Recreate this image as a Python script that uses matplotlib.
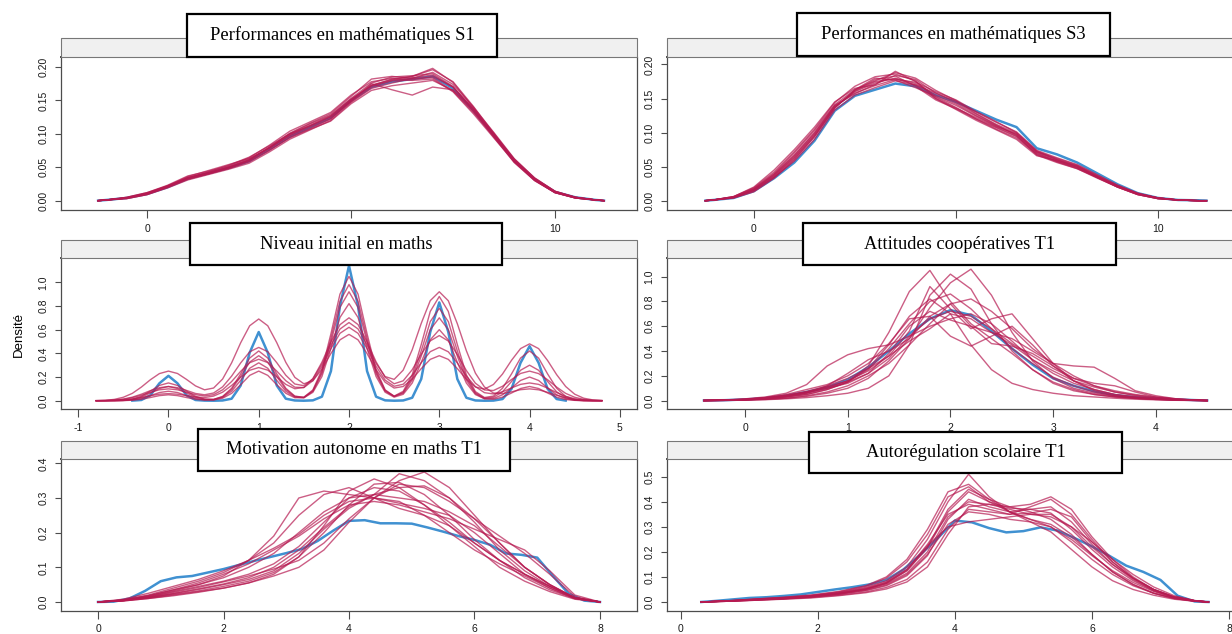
import matplotlib
matplotlib.use("Agg")
import matplotlib.pyplot as plt
from matplotlib.patches import Rectangle

# Performances en mathématiques S1
s1_x = [-1.2, -1.0, -0.5, 0.0, 0.5, 1.0, 1.5, 2.0, 2.5, 3.0, 3.5, 4.0, 4.5, 5.0,
        5.5, 6.0, 6.5, 7.0, 7.5, 8.0, 8.5, 9.0, 9.5, 10.0, 10.5, 11.0, 11.2]
s1_obs = [0, 0.001, 0.004, 0.010, 0.020, 0.033, 0.041, 0.049, 0.059, 0.077, 0.096, 0.110, 0.124, 0.150,
          0.170, 0.178, 0.182, 0.186, 0.168, 0.135, 0.098, 0.060, 0.032, 0.013, 0.005, 0.001, 0]
s1_imp = [
    [0, 0.001, 0.004, 0.011, 0.022, 0.035, 0.042, 0.050, 0.061, 0.079, 0.099, 0.113, 0.127, 0.152, 0.172, 0.180, 0.184, 0.188, 0.170, 0.136, 0.097, 0.059, 0.031, 0.012, 0.004, 0.001, 0],
    [0, 0.001, 0.005, 0.012, 0.023, 0.037, 0.044, 0.052, 0.064, 0.083, 0.104, 0.118, 0.132, 0.158, 0.178, 0.183, 0.180, 0.182, 0.163, 0.130, 0.094, 0.058, 0.031, 0.013, 0.005, 0.001, 0],
    [0, 0.001, 0.003, 0.009, 0.019, 0.031, 0.039, 0.047, 0.056, 0.073, 0.092, 0.106, 0.120, 0.147, 0.168, 0.176, 0.183, 0.192, 0.174, 0.140, 0.102, 0.063, 0.034, 0.014, 0.005, 0.001, 0],
    [0, 0.001, 0.004, 0.010, 0.021, 0.034, 0.043, 0.053, 0.065, 0.082, 0.100, 0.112, 0.125, 0.149, 0.175, 0.166, 0.158, 0.170, 0.166, 0.137, 0.100, 0.062, 0.033, 0.014, 0.005, 0.001, 0],
    [0, 0.001, 0.004, 0.011, 0.021, 0.033, 0.040, 0.048, 0.058, 0.075, 0.095, 0.108, 0.122, 0.150, 0.172, 0.182, 0.186, 0.196, 0.178, 0.141, 0.100, 0.060, 0.031, 0.012, 0.004, 0.001, 0],
    [0, 0.001, 0.005, 0.012, 0.022, 0.034, 0.041, 0.049, 0.060, 0.080, 0.101, 0.116, 0.130, 0.156, 0.182, 0.186, 0.183, 0.184, 0.164, 0.132, 0.096, 0.059, 0.032, 0.013, 0.005, 0.001, 0],
    [0, 0.001, 0.004, 0.010, 0.020, 0.032, 0.040, 0.049, 0.059, 0.076, 0.094, 0.107, 0.119, 0.145, 0.165, 0.172, 0.176, 0.180, 0.165, 0.134, 0.099, 0.062, 0.034, 0.014, 0.005, 0.001, 0],
    [0, 0.001, 0.004, 0.011, 0.022, 0.036, 0.045, 0.054, 0.063, 0.079, 0.097, 0.110, 0.123, 0.148, 0.170, 0.179, 0.181, 0.186, 0.170, 0.138, 0.101, 0.061, 0.032, 0.013, 0.004, 0.001, 0],
    [0, 0.001, 0.003, 0.009, 0.020, 0.033, 0.041, 0.050, 0.061, 0.080, 0.100, 0.115, 0.128, 0.153, 0.176, 0.185, 0.187, 0.190, 0.171, 0.134, 0.095, 0.057, 0.030, 0.012, 0.004, 0.001, 0],
    [0, 0.001, 0.004, 0.010, 0.021, 0.034, 0.042, 0.051, 0.062, 0.078, 0.098, 0.112, 0.126, 0.151, 0.173, 0.181, 0.186, 0.198, 0.177, 0.139, 0.097, 0.058, 0.030, 0.012, 0.004, 0.001, 0],
]

# Performances en mathématiques S3
s3_x = s1_x
s3_obs = [0, 0.001, 0.004, 0.014, 0.033, 0.056, 0.088, 0.132, 0.154, 0.163, 0.172, 0.168, 0.155, 0.145,
          0.132, 0.119, 0.108, 0.077, 0.068, 0.056, 0.040, 0.024, 0.011, 0.004, 0.001, 0.0005, 0]
s3_imp = [
    [0, 0.001, 0.005, 0.016, 0.037, 0.064, 0.097, 0.138, 0.160, 0.173, 0.180, 0.172, 0.155, 0.142, 0.125, 0.110, 0.097, 0.071, 0.060, 0.050, 0.035, 0.021, 0.010, 0.004, 0.001, 0, 0],
    [0, 0.001, 0.006, 0.019, 0.042, 0.072, 0.105, 0.144, 0.168, 0.182, 0.186, 0.176, 0.152, 0.137, 0.120, 0.105, 0.092, 0.068, 0.057, 0.047, 0.033, 0.020, 0.009, 0.003, 0.001, 0, 0],
    [0, 0.001, 0.004, 0.014, 0.034, 0.058, 0.090, 0.133, 0.155, 0.166, 0.176, 0.170, 0.158, 0.146, 0.130, 0.115, 0.101, 0.074, 0.063, 0.053, 0.038, 0.023, 0.011, 0.004, 0.001, 0, 0],
    [0, 0.001, 0.006, 0.020, 0.045, 0.075, 0.108, 0.145, 0.165, 0.170, 0.190, 0.175, 0.150, 0.136, 0.122, 0.108, 0.095, 0.070, 0.058, 0.048, 0.034, 0.020, 0.009, 0.003, 0.001, 0, 0],
    [0, 0.001, 0.005, 0.015, 0.035, 0.061, 0.094, 0.136, 0.162, 0.178, 0.183, 0.168, 0.148, 0.135, 0.120, 0.107, 0.094, 0.069, 0.058, 0.049, 0.035, 0.022, 0.010, 0.004, 0.001, 0, 0],
    [0, 0.001, 0.005, 0.017, 0.039, 0.067, 0.100, 0.140, 0.158, 0.169, 0.178, 0.174, 0.160, 0.148, 0.131, 0.116, 0.100, 0.073, 0.061, 0.051, 0.036, 0.021, 0.010, 0.004, 0.001, 0, 0],
    [0, 0.001, 0.004, 0.013, 0.033, 0.060, 0.094, 0.136, 0.163, 0.180, 0.177, 0.166, 0.153, 0.140, 0.124, 0.109, 0.098, 0.072, 0.062, 0.052, 0.037, 0.022, 0.011, 0.004, 0.001, 0, 0],
    [0, 0.001, 0.005, 0.017, 0.038, 0.066, 0.099, 0.139, 0.157, 0.171, 0.184, 0.178, 0.158, 0.144, 0.127, 0.111, 0.096, 0.067, 0.056, 0.047, 0.034, 0.020, 0.009, 0.003, 0.001, 0, 0],
    [0, 0.001, 0.005, 0.016, 0.036, 0.063, 0.096, 0.137, 0.161, 0.175, 0.179, 0.170, 0.150, 0.134, 0.118, 0.104, 0.090, 0.066, 0.059, 0.051, 0.036, 0.021, 0.010, 0.004, 0.001, 0, 0],
    [0, 0.001, 0.006, 0.018, 0.040, 0.070, 0.103, 0.141, 0.163, 0.176, 0.188, 0.180, 0.162, 0.147, 0.128, 0.112, 0.099, 0.072, 0.060, 0.049, 0.034, 0.020, 0.009, 0.003, 0.001, 0, 0],
]

# Niveau initial en maths
niv_obs_x = [-0.4, -0.3, -0.2, -0.1, 0.0, 0.1, 0.2, 0.3, 0.4, 0.5, 0.6, 0.7, 0.8, 0.9, 1.0,
             1.1, 1.2, 1.3, 1.4, 1.5, 1.6, 1.7, 1.8, 1.9, 2.0, 2.1, 2.2, 2.3, 2.4, 2.5,
             2.6, 2.7, 2.8, 2.9, 3.0, 3.1, 3.2, 3.3, 3.4, 3.5, 3.6, 3.7, 3.8, 3.9, 4.0,
             4.1, 4.2, 4.3, 4.4]
niv_obs = [0.001, 0.006, 0.046, 0.147, 0.21, 0.147, 0.046, 0.006, 0.001, 0.0, 0.002, 0.017, 0.128, 0.406, 0.58,
           0.406, 0.128, 0.017, 0.002, 0.0, 0.003, 0.034, 0.25, 0.80, 1.14, 0.80, 0.25, 0.034, 0.003, 0.0,
           0.002, 0.025, 0.183, 0.58, 0.83, 0.58, 0.183, 0.025, 0.002, 0.0, 0.001, 0.014, 0.10, 0.32, 0.46,
           0.32, 0.10, 0.014, 0.001]
niv_x = [-0.8, -0.7, -0.6, -0.5, -0.4, -0.3, -0.2, -0.1, 0.0,
         0.1, 0.2, 0.3, 0.4, 0.5, 0.6, 0.7, 0.8, 0.9, 1.0,
         1.1, 1.2, 1.3, 1.4, 1.5, 1.6, 1.7, 1.8, 1.9, 2.0,
         2.1, 2.2, 2.3, 2.4, 2.5, 2.6, 2.7, 2.8, 2.9, 3.0,
         3.1, 3.2, 3.3, 3.4, 3.5, 3.6, 3.7, 3.8, 3.9, 4.0,
         4.1, 4.2, 4.3, 4.4, 4.5, 4.6, 4.7, 4.8]
niv_imp = [
    [0, 0, 0.001, 0.003, 0.010, 0.030, 0.065, 0.103, 0.12,
     0.103, 0.065, 0.030, 0.012, 0.011, 0.036, 0.105, 0.226, 0.360, 0.42,
     0.360, 0.226, 0.105, 0.039, 0.028, 0.080, 0.229, 0.496, 0.788, 0.92,
     0.788, 0.496, 0.229, 0.081, 0.036, 0.070, 0.194, 0.420, 0.668, 0.78,
     0.668, 0.420, 0.194, 0.067, 0.023, 0.029, 0.075, 0.162, 0.257, 0.30,
     0.257, 0.162, 0.075, 0.026, 0.006, 0.001, 0, 0],
    [0, 0, 0.0003, 0.0017, 0.007, 0.020, 0.043, 0.069, 0.08,
     0.069, 0.043, 0.020, 0.008, 0.008, 0.028, 0.080, 0.172, 0.274, 0.32,
     0.274, 0.172, 0.080, 0.031, 0.024, 0.071, 0.204, 0.442, 0.703, 0.82,
     0.703, 0.442, 0.204, 0.072, 0.030, 0.054, 0.149, 0.323, 0.514, 0.60,
     0.514, 0.323, 0.149, 0.052, 0.017, 0.019, 0.050, 0.108, 0.171, 0.20,
     0.171, 0.108, 0.050, 0.017, 0.004, 0.001, 0, 0],
    [0, 0, 0.0002, 0.001, 0.004, 0.012, 0.027, 0.043, 0.05,
     0.043, 0.027, 0.012, 0.005, 0.006, 0.021, 0.062, 0.135, 0.214, 0.25,
     0.214, 0.135, 0.063, 0.025, 0.026, 0.084, 0.244, 0.528, 0.840, 0.98,
     0.840, 0.528, 0.244, 0.087, 0.039, 0.079, 0.219, 0.474, 0.754, 0.88,
     0.754, 0.474, 0.219, 0.077, 0.027, 0.039, 0.105, 0.226, 0.360, 0.42,
     0.360, 0.226, 0.105, 0.036, 0.009, 0.002, 0, 0],
    [0, 0, 0.0006, 0.003, 0.013, 0.037, 0.081, 0.129, 0.15,
     0.129, 0.081, 0.037, 0.014, 0.011, 0.033, 0.095, 0.205, 0.326, 0.38,
     0.326, 0.205, 0.095, 0.036, 0.030, 0.091, 0.261, 0.566, 0.900, 1.05,
     0.900, 0.566, 0.261, 0.092, 0.037, 0.064, 0.174, 0.377, 0.600, 0.70,
     0.600, 0.377, 0.174, 0.060, 0.017, 0.013, 0.030, 0.065, 0.103, 0.12,
     0.103, 0.065, 0.030, 0.010, 0.003, 0, 0, 0],
    [0.0004, 0.0014, 0.0044, 0.011, 0.025, 0.046, 0.071, 0.092, 0.10,
     0.092, 0.072, 0.051, 0.040, 0.051, 0.092, 0.162, 0.248, 0.321, 0.35,
     0.322, 0.250, 0.169, 0.114, 0.111, 0.169, 0.289, 0.440, 0.569, 0.62,
     0.569, 0.440, 0.290, 0.174, 0.122, 0.139, 0.215, 0.321, 0.414, 0.45,
     0.413, 0.319, 0.208, 0.119, 0.068, 0.057, 0.075, 0.108, 0.138, 0.15,
     0.138, 0.106, 0.069, 0.037, 0.017, 0.007, 0.002, 0.0006],
    [0.0002, 0.0008, 0.0026, 0.007, 0.015, 0.027, 0.042, 0.055, 0.06,
     0.055, 0.043, 0.031, 0.027, 0.039, 0.072, 0.129, 0.198, 0.257, 0.28,
     0.258, 0.201, 0.138, 0.101, 0.112, 0.187, 0.325, 0.496, 0.642, 0.70,
     0.643, 0.497, 0.328, 0.198, 0.143, 0.168, 0.262, 0.392, 0.505, 0.55,
     0.504, 0.390, 0.255, 0.148, 0.091, 0.086, 0.122, 0.179, 0.230, 0.25,
     0.229, 0.177, 0.115, 0.062, 0.029, 0.011, 0.004, 0.001],
    [0.001, 0.0035, 0.011, 0.029, 0.062, 0.115, 0.177, 0.229, 0.25,
     0.230, 0.180, 0.125, 0.092, 0.107, 0.183, 0.320, 0.489, 0.633, 0.69,
     0.633, 0.490, 0.324, 0.197, 0.143, 0.169, 0.266, 0.399, 0.514, 0.56,
     0.514, 0.398, 0.262, 0.156, 0.107, 0.120, 0.182, 0.271, 0.349, 0.38,
     0.349, 0.271, 0.181, 0.116, 0.098, 0.137, 0.225, 0.341, 0.440, 0.48,
     0.440, 0.339, 0.220, 0.120, 0.055, 0.021, 0.007, 0.002],
    [0.0005, 0.0017, 0.0053, 0.014, 0.030, 0.055, 0.085, 0.110, 0.12,
     0.110, 0.087, 0.061, 0.050, 0.065, 0.117, 0.208, 0.319, 0.413, 0.45,
     0.414, 0.321, 0.215, 0.141, 0.127, 0.184, 0.308, 0.469, 0.605, 0.66,
     0.606, 0.471, 0.315, 0.204, 0.180, 0.258, 0.430, 0.653, 0.845, 0.92,
     0.844, 0.650, 0.422, 0.233, 0.116, 0.065, 0.059, 0.075, 0.093, 0.10,
     0.092, 0.071, 0.046, 0.025, 0.011, 0.004, 0.001, 0.0004],
]

# Attitudes coopératives T1
att_x = [-0.4, -0.2, 0.0, 0.2, 0.4, 0.6, 0.8, 1.0, 1.2, 1.4, 1.6, 1.8, 2.0,
         2.2, 2.4, 2.6, 2.8, 3.0, 3.2, 3.4, 3.6, 3.8, 4.0, 4.2, 4.4, 4.5]
att_obs = [0.002, 0.004, 0.01, 0.02, 0.04, 0.07, 0.107, 0.17, 0.27, 0.40, 0.54, 0.66, 0.73,
           0.69, 0.56, 0.42, 0.29, 0.18, 0.12, 0.075, 0.045, 0.028, 0.018, 0.01, 0.004, 0.002]
att_imp = [
    [0.001, 0.004, 0.01, 0.02, 0.04, 0.07, 0.11, 0.16, 0.25, 0.42, 0.62, 0.80, 0.86, 0.74, 0.58, 0.42, 0.30, 0.19, 0.12, 0.07, 0.04, 0.025, 0.015, 0.008, 0.003, 0.001],
    [0.001, 0.003, 0.008, 0.015, 0.03, 0.05, 0.09, 0.15, 0.28, 0.55, 0.88, 1.05, 0.80, 0.62, 0.50, 0.38, 0.25, 0.15, 0.09, 0.05, 0.03, 0.02, 0.012, 0.006, 0.002, 0.001],
    [0.002, 0.006, 0.015, 0.03, 0.06, 0.13, 0.28, 0.37, 0.42, 0.45, 0.52, 0.60, 0.66, 0.70, 0.62, 0.48, 0.33, 0.22, 0.14, 0.09, 0.05, 0.03, 0.015, 0.007, 0.003, 0.001],
    [0.001, 0.003, 0.006, 0.012, 0.02, 0.035, 0.06, 0.10, 0.18, 0.32, 0.50, 0.75, 0.95, 1.06, 0.85, 0.55, 0.32, 0.18, 0.10, 0.06, 0.035, 0.02, 0.012, 0.006, 0.002, 0.001],
    [0.001, 0.004, 0.01, 0.025, 0.05, 0.09, 0.13, 0.20, 0.30, 0.46, 0.66, 0.68, 0.52, 0.44, 0.52, 0.60, 0.45, 0.28, 0.16, 0.09, 0.05, 0.03, 0.015, 0.007, 0.003, 0.001],
    [0.001, 0.002, 0.005, 0.01, 0.02, 0.04, 0.07, 0.12, 0.20, 0.30, 0.45, 0.62, 0.78, 0.82, 0.72, 0.58, 0.42, 0.30, 0.28, 0.27, 0.18, 0.08, 0.04, 0.015, 0.004, 0.001],
    [0.001, 0.003, 0.008, 0.018, 0.035, 0.06, 0.10, 0.14, 0.22, 0.38, 0.60, 0.72, 0.65, 0.60, 0.55, 0.50, 0.40, 0.30, 0.20, 0.12, 0.07, 0.04, 0.02, 0.01, 0.004, 0.001],
    [0.002, 0.005, 0.012, 0.025, 0.045, 0.075, 0.12, 0.18, 0.26, 0.36, 0.48, 0.58, 0.70, 0.66, 0.55, 0.45, 0.33, 0.24, 0.16, 0.11, 0.07, 0.045, 0.025, 0.012, 0.004, 0.002],
    [0.001, 0.002, 0.004, 0.008, 0.015, 0.025, 0.04, 0.06, 0.10, 0.20, 0.45, 0.85, 1.02, 0.90, 0.62, 0.40, 0.25, 0.14, 0.08, 0.05, 0.03, 0.018, 0.01, 0.005, 0.002, 0.001],
    [0.001, 0.003, 0.007, 0.015, 0.03, 0.06, 0.12, 0.22, 0.33, 0.40, 0.50, 0.68, 0.78, 0.60, 0.46, 0.44, 0.38, 0.28, 0.18, 0.14, 0.12, 0.07, 0.03, 0.012, 0.004, 0.001],
    [0.001, 0.004, 0.009, 0.02, 0.04, 0.07, 0.11, 0.16, 0.24, 0.36, 0.56, 0.92, 0.74, 0.58, 0.66, 0.70, 0.50, 0.30, 0.16, 0.08, 0.04, 0.02, 0.01, 0.005, 0.002, 0.001],
    [0.002, 0.005, 0.012, 0.022, 0.04, 0.065, 0.10, 0.15, 0.22, 0.34, 0.52, 0.66, 0.72, 0.68, 0.58, 0.46, 0.36, 0.26, 0.18, 0.12, 0.08, 0.05, 0.03, 0.015, 0.005, 0.002],
    [0.001, 0.003, 0.008, 0.016, 0.03, 0.05, 0.09, 0.15, 0.26, 0.45, 0.68, 0.82, 0.70, 0.45, 0.25, 0.14, 0.09, 0.06, 0.04, 0.03, 0.02, 0.012, 0.007, 0.003, 0.001, 0.001],
]

# Motivation autonome en maths T1
mot_obs_x = [0.0, 0.25, 0.5, 0.75, 1.0, 1.25, 1.5, 1.75, 2.0, 2.25, 2.5, 2.75, 3.0, 3.25, 3.5, 3.75,
             4.0, 4.25, 4.5, 4.75, 5.0, 5.25, 5.5, 5.75, 6.0, 6.25, 6.5, 6.75, 7.0, 7.25, 7.5, 7.75, 8.0]
mot_obs = [0, 0.001, 0.010, 0.032, 0.060, 0.071, 0.075, 0.085, 0.095, 0.107, 0.119, 0.130, 0.141, 0.153, 0.176, 0.206,
           0.234, 0.236, 0.227, 0.227, 0.226, 0.215, 0.203, 0.190, 0.179, 0.165, 0.140, 0.136, 0.128, 0.075, 0.024, 0.004, 0]
mot_x = [0.0, 0.4, 0.8, 1.2, 1.6, 2.0, 2.4, 2.8, 3.2, 3.6, 4.0, 4.4, 4.8, 5.2, 5.6, 6.0, 6.4, 6.8, 7.2, 7.6, 8.0]
mot_imp = [
    [0, 0.005, 0.015, 0.030, 0.045, 0.060, 0.080, 0.110, 0.160, 0.230, 0.300, 0.330, 0.320, 0.280, 0.230, 0.170, 0.120, 0.080, 0.045, 0.012, 0],
    [0, 0.004, 0.012, 0.022, 0.032, 0.045, 0.060, 0.085, 0.130, 0.200, 0.280, 0.340, 0.345, 0.310, 0.250, 0.180, 0.120, 0.070, 0.035, 0.010, 0],
    [0, 0.006, 0.020, 0.040, 0.060, 0.085, 0.120, 0.170, 0.250, 0.310, 0.330, 0.300, 0.270, 0.250, 0.220, 0.170, 0.120, 0.080, 0.045, 0.012, 0],
    [0, 0.004, 0.014, 0.028, 0.042, 0.058, 0.075, 0.095, 0.120, 0.170, 0.240, 0.300, 0.350, 0.375, 0.330, 0.250, 0.170, 0.100, 0.050, 0.012, 0],
    [0, 0.005, 0.018, 0.035, 0.055, 0.080, 0.110, 0.150, 0.190, 0.240, 0.280, 0.290, 0.280, 0.260, 0.240, 0.210, 0.180, 0.150, 0.090, 0.020, 0],
    [0, 0.003, 0.010, 0.020, 0.030, 0.040, 0.055, 0.080, 0.130, 0.220, 0.320, 0.355, 0.330, 0.280, 0.220, 0.160, 0.100, 0.060, 0.030, 0.008, 0],
    [0, 0.006, 0.018, 0.035, 0.050, 0.070, 0.100, 0.140, 0.200, 0.260, 0.300, 0.310, 0.300, 0.290, 0.260, 0.220, 0.160, 0.100, 0.050, 0.012, 0],
    [0, 0.004, 0.013, 0.025, 0.038, 0.052, 0.070, 0.100, 0.150, 0.215, 0.275, 0.310, 0.330, 0.335, 0.300, 0.230, 0.150, 0.090, 0.045, 0.012, 0],
    [0, 0.008, 0.025, 0.045, 0.065, 0.090, 0.120, 0.155, 0.195, 0.250, 0.290, 0.300, 0.290, 0.250, 0.200, 0.150, 0.110, 0.075, 0.040, 0.010, 0],
    [0, 0.003, 0.010, 0.018, 0.028, 0.040, 0.055, 0.075, 0.100, 0.150, 0.230, 0.300, 0.340, 0.330, 0.290, 0.240, 0.190, 0.140, 0.080, 0.015, 0],
    [0, 0.005, 0.016, 0.032, 0.050, 0.075, 0.120, 0.190, 0.300, 0.320, 0.310, 0.300, 0.285, 0.270, 0.250, 0.200, 0.140, 0.080, 0.040, 0.010, 0],
    [0, 0.004, 0.012, 0.024, 0.036, 0.050, 0.065, 0.090, 0.140, 0.210, 0.270, 0.310, 0.370, 0.350, 0.300, 0.240, 0.170, 0.100, 0.050, 0.012, 0],
]

# Autorégulation scolaire T1
aut_obs_x = [0.3, 0.5, 0.75, 1.0, 1.25, 1.5, 1.75, 2.0, 2.25, 2.5, 2.75, 3.0, 3.25, 3.5, 3.75, 4.0,
             4.25, 4.5, 4.75, 5.0, 5.25, 5.5, 5.75, 6.0, 6.25, 6.5, 6.75, 7.0, 7.25, 7.5, 7.7]
aut_obs = [0, 0.004, 0.010, 0.016, 0.019, 0.024, 0.030, 0.040, 0.050, 0.059, 0.070, 0.088, 0.130, 0.19, 0.255, 0.325,
           0.318, 0.295, 0.278, 0.283, 0.298, 0.285, 0.255, 0.222, 0.185, 0.145, 0.120, 0.088, 0.025, 0.002, 0]
aut_x = [0.3, 0.7, 1.1, 1.5, 1.9, 2.3, 2.7, 3.0, 3.3, 3.6, 3.9, 4.2, 4.5, 4.8, 5.1, 5.4,
         5.7, 6.0, 6.3, 6.6, 6.9, 7.2, 7.5, 7.7]
aut_imp = [
    [0, 0.004, 0.010, 0.016, 0.024, 0.035, 0.052, 0.075, 0.125, 0.215, 0.360, 0.440, 0.400, 0.375, 0.370, 0.355, 0.290, 0.210, 0.140, 0.085, 0.045, 0.018, 0.005, 0],
    [0, 0.003, 0.008, 0.013, 0.020, 0.030, 0.045, 0.065, 0.105, 0.185, 0.330, 0.410, 0.380, 0.360, 0.370, 0.380, 0.320, 0.230, 0.150, 0.090, 0.045, 0.018, 0.004, 0],
    [0, 0.005, 0.012, 0.018, 0.026, 0.040, 0.062, 0.095, 0.160, 0.270, 0.420, 0.460, 0.400, 0.360, 0.330, 0.300, 0.240, 0.170, 0.110, 0.065, 0.035, 0.015, 0.004, 0],
    [0, 0.003, 0.007, 0.012, 0.018, 0.027, 0.040, 0.058, 0.090, 0.160, 0.290, 0.370, 0.360, 0.350, 0.380, 0.410, 0.350, 0.250, 0.160, 0.095, 0.050, 0.020, 0.005, 0],
    [0, 0.004, 0.010, 0.016, 0.025, 0.038, 0.058, 0.085, 0.140, 0.250, 0.400, 0.510, 0.420, 0.360, 0.330, 0.310, 0.260, 0.190, 0.120, 0.070, 0.035, 0.014, 0.003, 0],
    [0, 0.004, 0.009, 0.014, 0.022, 0.033, 0.050, 0.072, 0.115, 0.200, 0.340, 0.400, 0.390, 0.370, 0.350, 0.340, 0.300, 0.240, 0.170, 0.110, 0.060, 0.025, 0.006, 0],
    [0, 0.005, 0.011, 0.017, 0.025, 0.036, 0.055, 0.080, 0.130, 0.225, 0.300, 0.320, 0.330, 0.340, 0.350, 0.350, 0.300, 0.220, 0.150, 0.095, 0.050, 0.020, 0.005, 0],
    [0, 0.003, 0.008, 0.013, 0.020, 0.032, 0.050, 0.075, 0.125, 0.220, 0.370, 0.450, 0.410, 0.380, 0.360, 0.330, 0.270, 0.190, 0.120, 0.070, 0.035, 0.014, 0.003, 0],
    [0, 0.004, 0.010, 0.015, 0.022, 0.034, 0.052, 0.078, 0.130, 0.230, 0.350, 0.390, 0.370, 0.350, 0.355, 0.370, 0.340, 0.240, 0.160, 0.095, 0.050, 0.020, 0.005, 0],
    [0, 0.005, 0.012, 0.019, 0.028, 0.042, 0.065, 0.100, 0.170, 0.290, 0.440, 0.470, 0.410, 0.360, 0.320, 0.280, 0.210, 0.140, 0.085, 0.050, 0.027, 0.011, 0.003, 0],
    [0, 0.003, 0.007, 0.011, 0.016, 0.025, 0.037, 0.052, 0.080, 0.140, 0.270, 0.380, 0.390, 0.380, 0.390, 0.420, 0.370, 0.260, 0.170, 0.100, 0.050, 0.020, 0.005, 0],
    [0, 0.004, 0.009, 0.014, 0.021, 0.031, 0.047, 0.068, 0.110, 0.190, 0.310, 0.360, 0.350, 0.330, 0.320, 0.300, 0.250, 0.185, 0.125, 0.078, 0.042, 0.017, 0.004, 0],
]

titles = ["Performances en mathématiques S1", "Performances en mathématiques S3",
          "Niveau initial en maths", "Attitudes coopératives T1",
          "Motivation autonome en maths T1", "Autorégulation scolaire T1"]

# ---- layout (pixel boxes measured on the 1232x634 reference) ----
W, H = 1232, 634
fig = plt.figure(figsize=(W / 100, H / 100), dpi=100)

col_x = [(61, 637), (667, 1240)]
row_plot = [(57, 210), (258, 409), (459, 611)]
row_strip = [(38, 57), (240, 258), (441, 459)]
title_boxes = [(187, 14, 497, 57), (797, 13, 1110, 56),
               (190, 223, 502, 265), (803, 223, 1116, 265),
               (198, 429, 510, 471), (809, 432, 1122, 473)]

panels = [
    dict(ox=s1_x, oy=s1_obs, ix=s1_x, iy=s1_imp, xlim=(-2.11, 12.01), ylim=(-0.014, 0.215),
         xt=[0, 5, 10], yt=[0, 0.05, 0.10, 0.15, 0.20], yl=["0.00", "0.05", "0.10", "0.15", "0.20"]),
    dict(ox=s3_x, oy=s3_obs, ix=s3_x, iy=s3_imp, xlim=(-2.15, 12.03), ylim=(-0.0137, 0.211),
         xt=[0, 5, 10], yt=[0, 0.05, 0.10, 0.15, 0.20], yl=["0.00", "0.05", "0.10", "0.15", "0.20"]),
    dict(ox=niv_obs_x, oy=niv_obs, ix=niv_x, iy=niv_imp, xlim=(-1.19, 5.19), ylim=(-0.07, 1.205),
         xt=[-1, 0, 1, 2, 3, 4, 5], yt=[0, 0.2, 0.4, 0.6, 0.8, 1.0], yl=["0.0", "0.2", "0.4", "0.6", "0.8", "1.0"]),
    dict(ox=att_x, oy=att_obs, ix=att_x, iy=att_imp, xlim=(-0.76, 4.82), ylim=(-0.067, 1.15),
         xt=[0, 1, 2, 3, 4], yt=[0, 0.2, 0.4, 0.6, 0.8, 1.0], yl=["0.0", "0.2", "0.4", "0.6", "0.8", "1.0"]),
    dict(ox=mot_obs_x, oy=mot_obs, ix=mot_x, iy=mot_imp, xlim=(-0.59, 8.59), ylim=(-0.026, 0.4125),
         xt=[0, 2, 4, 6, 8], yt=[0, 0.1, 0.2, 0.3, 0.4], yl=["0.0", "0.1", "0.2", "0.3", "0.4"]),
    dict(ox=aut_obs_x, oy=aut_obs, ix=aut_x, iy=aut_imp, xlim=(-0.2, 8.16), ylim=(-0.036, 0.571),
         xt=[0, 2, 4, 6, 8], yt=[0, 0.1, 0.2, 0.3, 0.4, 0.5], yl=["0.0", "0.1", "0.2", "0.3", "0.4", "0.5"]),
]

OBS = "#006CC2"
IMP = "#B61A51"
GRID = "#4D4D4D"
SANS = "Liberation Sans"
SERIF = "Liberation Serif"


def fig_rect(x0, y0, x1, y1):
    # pixel box (top-left origin) -> figure fraction rect
    return [x0 / W, 1 - y1 / H, (x1 - x0) / W, (y1 - y0) / H]


for i, p in enumerate(panels):
    r, c = divmod(i, 2)
    x0, x1 = col_x[c]
    y0, y1 = row_plot[r]

    # strip above the panel
    sx = fig_rect(x0, row_strip[r][0], x1, row_strip[r][1])
    fig.add_artist(Rectangle((sx[0], sx[1]), sx[2], sx[3], transform=fig.transFigure,
                             facecolor="#F0F0F0", edgecolor="#777777", lw=0.8, zorder=1))

    ax = fig.add_axes(fig_rect(x0, y0, x1, y1))
    ax.plot(p["ox"], p["oy"], color=OBS, alpha=0.75, lw=1.8, zorder=2)
    for curve in p["iy"]:
        ax.plot(p["ix"], curve, color=IMP, alpha=0.7, lw=1.0, zorder=3)

    ax.set_xlim(*p["xlim"])
    ax.set_ylim(*p["ylim"])
    ax.set_xticks(p["xt"])
    ax.set_xticklabels([str(t) for t in p["xt"]], fontfamily=SANS, fontsize=7.5)
    ax.set_yticks(p["yt"])
    ax.set_yticklabels(p["yl"], fontfamily=SANS, fontsize=7.5, rotation=90, va="center")
    ax.tick_params(axis="x", direction="out", length=6, width=0.8, color=GRID,
                   pad=3 if r == 2 else 4, labelcolor="#1a1a1a")
    ax.tick_params(axis="y", direction="out", length=4, width=0.8, color=GRID, pad=5, labelcolor="#1a1a1a")
    for s in ax.spines.values():
        s.set_color(GRID)
        s.set_linewidth(0.9)
    ax.spines["top"].set_linewidth(1.4)

    # white title box overlapping the strip
    bx0, by0, bx1, by1 = title_boxes[i]
    b = fig_rect(bx0, by0, bx1, by1)
    fig.add_artist(Rectangle((b[0], b[1]), b[2], b[3], transform=fig.transFigure,
                             facecolor="white", edgecolor="black", lw=1.6, zorder=10))
    fig.text(b[0] + b[2] / 2, b[1] + b[3] / 2, titles[i], ha="center", va="center",
             fontfamily=SERIF, fontsize=13.3, zorder=11)

fig.text(19 / W, 1 - 334 / H, "Densité", rotation=90, ha="center", va="center",
         fontfamily=SANS, fontsize=9.5)

fig.savefig("out.png", dpi=100)
